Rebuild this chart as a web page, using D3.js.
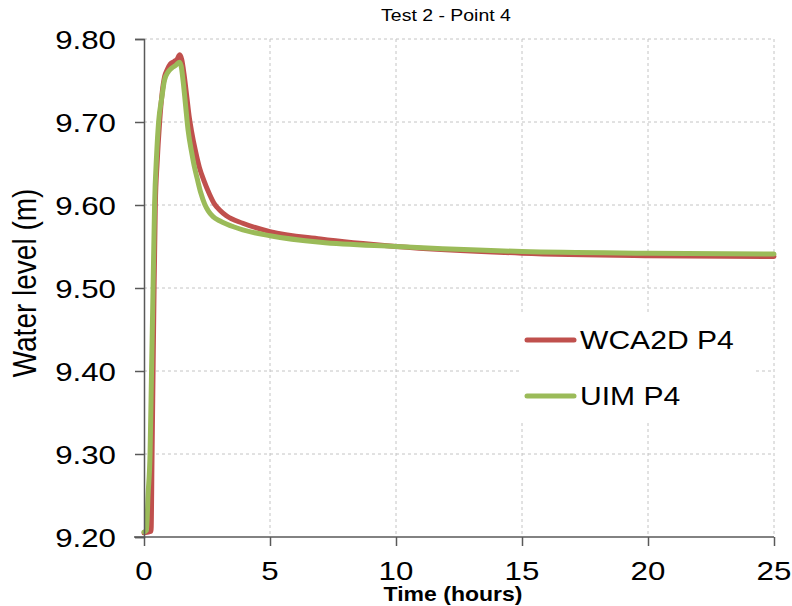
<!DOCTYPE html>
<html><head><meta charset="utf-8">
<script src="https://cdn.jsdelivr.net/npm/d3@7"></script>
<style>body{margin:0;background:#fff}svg{display:block}text{font-family:"Liberation Sans",Arial,sans-serif;fill:#000}</style>
</head><body><svg id="c" width="792" height="606"></svg>
<script>
const title = "Test 2 - Point 4";
const xLabel = "Time (hours)";
const yLabel = "Water level (m)";
const seriesNames = ["WCA2D P4", "UIM P4"];
const xTicks = [0, 5, 10, 15, 20, 25];
const yTicks = [9.20, 9.30, 9.40, 9.50, 9.60, 9.70, 9.80];
const timeWCA = [0, 0.28, 0.32, 0.36, 0.40, 0.45, 0.52, 0.62, 0.72, 0.82, 0.92, 1.05, 1.2, 1.32, 1.42, 1.5, 1.6, 1.7, 1.8, 1.88, 2.05, 2.2, 2.37, 2.6, 2.8, 3.0, 3.27, 3.92, 5, 7, 10, 15, 20, 25];
const valWCA = [9.205, 9.207, 9.30, 9.40, 9.50, 9.60, 9.65, 9.70, 9.735, 9.755, 9.763, 9.770, 9.773, 9.776, 9.781, 9.775, 9.755, 9.73, 9.705, 9.69, 9.664, 9.645, 9.63, 9.613, 9.601, 9.594, 9.587, 9.578, 9.568, 9.559, 9.550, 9.542, 9.539, 9.538];
const timeUIM = [0, 0.1, 0.16, 0.24, 0.30, 0.36, 0.42, 0.5, 0.58, 0.71, 0.81, 0.95, 1.1, 1.25, 1.4, 1.47, 1.55, 1.65, 1.75, 1.9, 2.0, 2.11, 2.25, 2.41, 2.55, 2.74, 3.0, 3.27, 3.92, 5, 7, 10, 15, 20, 25];
const valUIM = [9.206, 9.208, 9.25, 9.30, 9.40, 9.50, 9.60, 9.66, 9.70, 9.73, 9.75, 9.76, 9.765, 9.768, 9.772, 9.768, 9.75, 9.72, 9.69, 9.662, 9.646, 9.632, 9.615, 9.601, 9.593, 9.586, 9.581, 9.577, 9.570, 9.563, 9.555, 9.550, 9.544, 9.542, 9.541];
const colors = ["#c0504d", "#9bbb59"];

const svg = d3.select("#c");
const L = 144, R = 774, T = 39, B = 537;
const x = d3.scaleLinear().domain([0, 25]).range([L, R]);
const y = d3.scaleLinear().domain([9.2, 9.8]).range([B, T]);
const SX = 1.18;

// gridlines
svg.append("g").selectAll("line").data(yTicks.slice(1)).join("line")
  .attr("x1", L).attr("x2", R).attr("y1", d => y(d)).attr("y2", d => y(d))
  .attr("stroke", "#c4c4c4").attr("stroke-dasharray", "3,3");
svg.append("g").selectAll("line").data(xTicks.slice(1)).join("line")
  .attr("y1", T).attr("y2", B).attr("x1", d => x(d)).attr("x2", d => x(d))
  .attr("stroke", "#c4c4c4").attr("stroke-dasharray", "3,3");

// series
const line = d3.line().x(d => x(d[0])).y(d => y(d[1])).curve(d3.curveMonotoneX);
const wca = timeWCA.map((t, i) => [t, valWCA[i]]);
const uim = timeUIM.map((t, i) => [t, valUIM[i]]);
[wca, uim].forEach((s, i) => {
  svg.append("path").datum(s).attr("d", line).attr("fill", "none")
    .attr("stroke", colors[i]).attr("stroke-width", 5).attr("stroke-linejoin", "round").attr("stroke-linecap", "round");
});

// axes
const ax = svg.append("g").attr("transform", `translate(0,${B})`)
  .call(d3.axisBottom(x).tickValues(xTicks).tickSize(9).tickFormat(""));
const ay = svg.append("g").attr("transform", `translate(${L},0)`)
  .call(d3.axisLeft(y).tickValues(yTicks).tickSize(9).tickFormat(""));
[ax, ay].forEach(g => {
  g.select(".domain").attr("stroke", "#595959").attr("stroke-width", 1.5);
  g.selectAll(".tick line").attr("stroke", "#595959").attr("stroke-width", 1.5);
});
ax.select(".domain").attr("d", `M${L - 10},0H${R}`);

function stxt(px, py, str, size, anchor, extra) {
  return svg.append("text").attr("transform", `translate(${px},${py}) scale(${SX},1)` + (extra || ""))
    .attr("font-size", size).attr("text-anchor", anchor).text(str);
}
yTicks.forEach(v => stxt(116, y(v) + 9.5, v.toFixed(2), 26.5, "end"));
xTicks.forEach(v => stxt(x(v), 580, String(v), 26.5, "middle"));
stxt(453, 601, xLabel, 19.5, "middle").attr("font-weight", "bold");
stxt(446, 21, title, 16.5, "middle");
stxt(36, 283, yLabel, 28, "middle", " rotate(-90)");

// legend
svg.append("rect").attr("x", 519).attr("y", 312).attr("width", 237).attr("height", 111).attr("fill", "#fff");
const ly = [340, 396];
seriesNames.forEach((n, i) => {
  svg.append("line").attr("x1", 527).attr("x2", 574).attr("y1", ly[i]).attr("y2", ly[i])
    .attr("stroke", colors[i]).attr("stroke-width", 5).attr("stroke-linecap", "round");
  stxt(580, ly[i] + 8.5, n, 25.5, "start");
});
</script></body></html>
